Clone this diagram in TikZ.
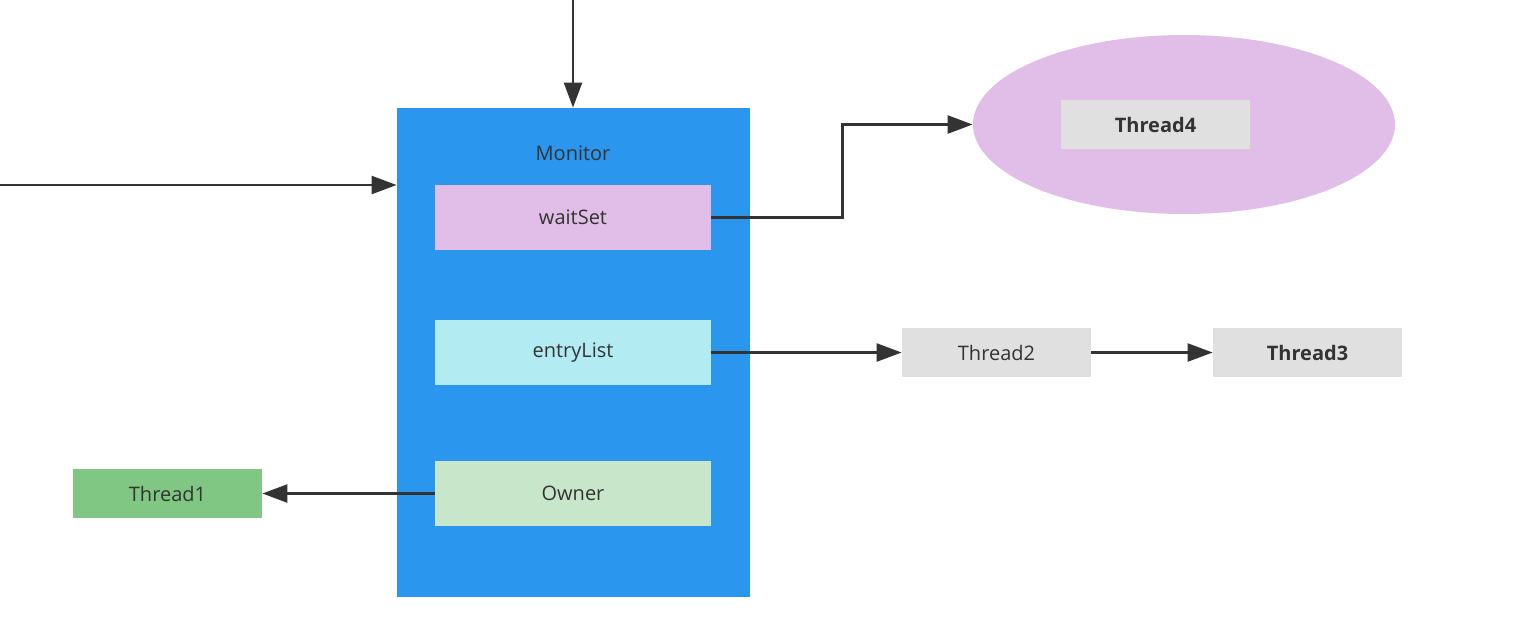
\documentclass[tikz,border=0pt]{standalone}
\usepackage{fontspec}
\setmainfont{Open Sans}
\usetikzlibrary{arrows.meta,shapes.geometric}
\definecolor{monblue}{HTML}{2A96EE}
\definecolor{lilac}{HTML}{E1BEE7}
\definecolor{cyanl}{HTML}{B2EBF2}
\definecolor{greenl}{HTML}{C8E6C9}
\definecolor{greenm}{HTML}{81C784}
\definecolor{greyl}{HTML}{E0E0E0}
\definecolor{ink}{HTML}{333333}
\tikzset{
  box/.style={rectangle, inner sep=0pt, text=ink, font=\fontsize{10}{12}\selectfont},
  slot/.style={box, minimum width=138pt, minimum height=32.5pt},
  thr/.style={box, fill=greyl, minimum width=94.5pt, minimum height=24.5pt},
  bthr/.style={thr, font=\fontsize{10}{12}\selectfont\bfseries},
  conn/.style={draw=ink, line width=1.2pt, -{Triangle[length=12.5pt,width=9pt]}}
}
\begin{document}
\begin{tikzpicture}[x=0.5pt,y=-0.5pt]
\useasboundingbox (0,0) rectangle (1522,622);
\node[box, fill=monblue, minimum width=176.5pt, minimum height=244.5pt] (mon) at (573.5,352.5) {};
\node[box] (monlbl) at (573,153) {Monitor};
\node[slot, fill=lilac] (ws) at (573,217.5) {waitSet};
\node[slot, fill=cyanl] (el) at (573,352.5) {entryList};
\node[slot, fill=greenl] (own) at (573,493.5) {Owner};
\node[thr, fill=greenm] (t1) at (167.5,493.5) {Thread1};
\node[thr] (t2) at (996.5,352.5) {Thread2};
\node[bthr] (t3) at (1307.5,352.5) {Thread3};
\node[ellipse, fill=lilac, inner sep=0pt, minimum width=211pt, minimum height=89.5pt] (ell) at (1184,124.5) {};
\node[bthr] (t4) at (1155.5,124.5) {Thread4};
\coordinate (topin) at (573,0);
\coordinate (leftin) at (0,185);
\draw[conn] (topin) -- (topin |- mon.north);
\draw[conn] (leftin) -- (leftin -| mon.west);
\draw[conn] (ws.east) -- ++(131,0) |- (ell.west);
\draw[conn] (el.east) -- (t2.west);
\draw[conn] (t2.east) -- (t3.west);
\draw[conn] (own.west) -- (t1.east);
\end{tikzpicture}
\end{document}
